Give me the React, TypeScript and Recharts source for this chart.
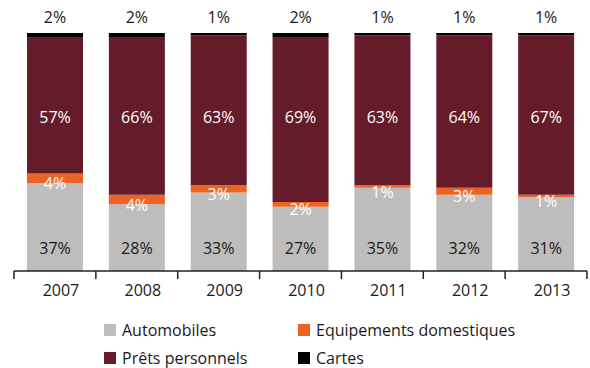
import { BarChart, Bar, XAxis, YAxis, LabelList, Legend } from 'recharts';

const years = ['2007', '2008', '2009', '2010', '2011', '2012', '2013'];
const automobiles = [37, 28, 33, 27, 35, 32, 31];
const equipements = [4, 4, 3, 2, 1, 3, 1];
const pretsPersonnels = [57, 66, 63, 69, 63, 64, 67];
const cartes = [2, 2, 1, 2, 1, 1, 1];

const series = [
  { key: 'automobiles', name: 'Automobiles', color: '#bebdbb' },
  { key: 'equipements', name: 'Equipements domestiques', color: '#ec6424' },
  { key: 'prets', name: 'Prêts personnels', color: '#651b2a' },
  { key: 'cartes', name: 'Cartes', color: '#000000' },
];

const data = years.map((year, i) => ({
  year,
  automobiles: automobiles[i],
  equipements: equipements[i],
  prets: pretsPersonnels[i],
  cartes: cartes[i],
}));

const W = 590;
const H = 368;
const MARGIN = { top: 33, right: 3, bottom: 67, left: 14 };
const X_AXIS_H = 30;
const AXIS_Y = H - MARGIN.bottom - X_AXIS_H;
const BAND = (W - MARGIN.left - MARGIN.right) / years.length;
const FONT = '"Open Sans", "DejaVu Sans", sans-serif';
const FONT_SIZE = 16;

// label at a fixed height, centred on the bar
const fixedLabel = (y: number, fill: string) => (props: any) => {
  const x = props.x ?? props.viewBox?.x;
  const width = props.width ?? props.viewBox?.width;
  return (
    <text x={x + width / 2} y={y} fill={fill} textAnchor="middle" dominantBaseline="central"
      fontSize={FONT_SIZE} fontFamily={FONT}>
      {props.value}%
    </text>
  );
};

// orange segment label sits just under the thin segment
const equipLabel = (props: any) => {
  const x = props.x ?? props.viewBox?.x;
  const y = props.y ?? props.viewBox?.y;
  const width = props.width ?? props.viewBox?.width;
  const height = props.height ?? props.viewBox?.height;
  return (
    <text x={x + width / 2} y={y + height / 2 + 5} fill="#fff" textAnchor="middle" dominantBaseline="central"
      fontSize={FONT_SIZE} fontFamily={FONT}>
      {props.value}%
    </text>
  );
};

const YearTick = (props: any) => {
  const { x, payload, index } = props;
  const left = x - BAND / 2;
  const isLast = index === years.length - 1 || payload.value === years[years.length - 1];
  return (
    <g>
      <line x1={left} x2={left} y1={AXIS_Y} y2={AXIS_Y + 8} stroke="#222" strokeWidth={1.5} />
      {isLast && <line x1={x + BAND / 2} x2={x + BAND / 2} y1={AXIS_Y} y2={AXIS_Y + 8} stroke="#222" strokeWidth={1.5} />}
      <text x={x + 6} y={AXIS_Y + 19} textAnchor="middle" dominantBaseline="central" fill="#1a1a1a"
        fontSize={FONT_SIZE} fontFamily={FONT}>
        {payload.value}
      </text>
    </g>
  );
};

// centre y of each legend row
const legendSpots = [
  { left: 104, cy: 330 },
  { left: 298, cy: 330 },
  { left: 104, cy: 358 },
  { left: 298, cy: 358 },
];
const LEGEND_TOP = 316;

const LegendBox = () => (
  <div style={{ position: 'relative', width: W, height: H - LEGEND_TOP }}>
    {series.map((s, i) => (
      <div key={s.key} style={{
        position: 'absolute', left: legendSpots[i].left, top: legendSpots[i].cy - 8 - LEGEND_TOP,
        display: 'flex', alignItems: 'center', height: 16, whiteSpace: 'nowrap',
      }}>
        <span style={{ width: 12, height: 12, background: s.color, display: 'inline-block', marginRight: 6 }} />
        <span style={{ fontFamily: FONT, fontSize: FONT_SIZE, color: '#1a1a1a', lineHeight: '16px' }}>{s.name}</span>
      </div>
    ))}
  </div>
);

export default function App() {
  return (
    <div style={{ width: W, height: H }}>
      <style>{`body { margin: 0; }`}</style>
      <BarChart width={W} height={H} data={data} margin={MARGIN} barSize={56}>
        <XAxis dataKey="year" height={X_AXIS_H} interval={0} tickLine={false}
          axisLine={{ stroke: '#222', strokeWidth: 1.5 }} tick={<YearTick />} />
        <YAxis hide domain={[0, 100]} />
        <Legend layout="vertical" align="center" verticalAlign="middle" content={<LegendBox />}
          wrapperStyle={{ left: 0, top: LEGEND_TOP, width: W, height: H - LEGEND_TOP }} />
        <Bar dataKey="automobiles" name="Automobiles" stackId="a" fill={series[0].color} isAnimationActive={false}>
          <LabelList dataKey="automobiles" content={fixedLabel(248, '#1a1a1a')} />
        </Bar>
        <Bar dataKey="equipements" name="Equipements domestiques" stackId="a" fill={series[1].color} isAnimationActive={false}>
          <LabelList dataKey="equipements" content={equipLabel} />
        </Bar>
        <Bar dataKey="prets" name="Prêts personnels" stackId="a" fill={series[2].color} isAnimationActive={false}>
          <LabelList dataKey="prets" content={fixedLabel(117, '#fff')} />
        </Bar>
        <Bar dataKey="cartes" name="Cartes" stackId="a" fill={series[3].color} isAnimationActive={false}>
          <LabelList dataKey="cartes" content={fixedLabel(17, '#1a1a1a')} />
        </Bar>
      </BarChart>
    </div>
  );
}
